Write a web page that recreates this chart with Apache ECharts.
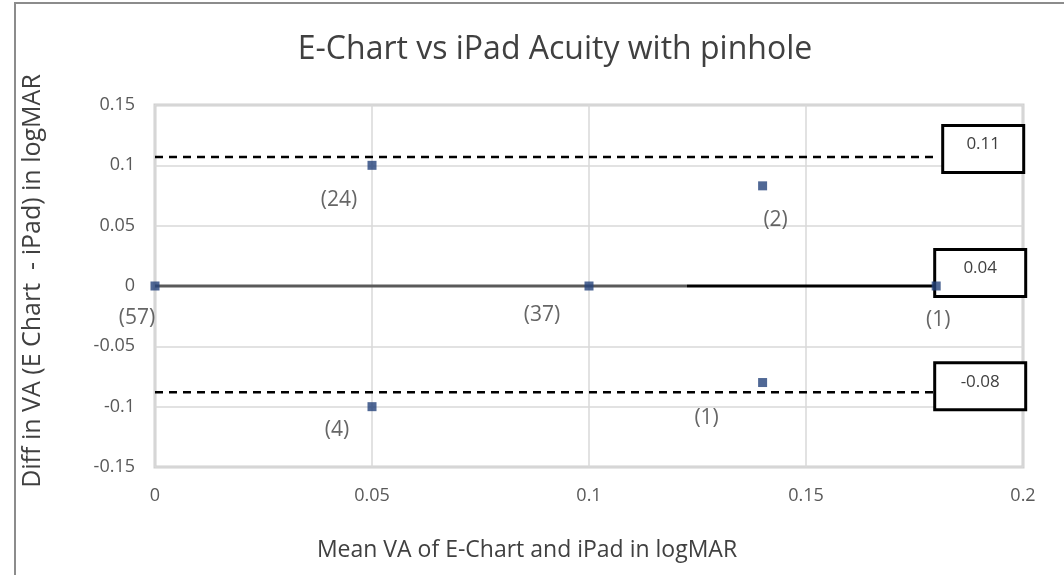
<!DOCTYPE html>
<html>
<head>
<meta charset="utf-8">
<script src="https://cdn.jsdelivr.net/npm/echarts@6/dist/echarts.min.js"></script>
<style>
html,body{margin:0;padding:0;background:#fff;}
#main{width:1064px;height:575px;}
</style>
</head>
<body>
<div id="main"></div>
<script>
// mean VA (x), difference (y) and number of eyes at each point
var meanVA = [0, 0.05, 0.05, 0.1, 0.14, 0.14, 0.18];
var diffVA = [0, 0.1, -0.1, 0, 0.083, -0.08, 0];
var counts = [57, 24, 4, 37, 2, 1, 1];

// limits of agreement and mean line
var upperLoA = 0.107, meanDiff = 0, lowerLoA = -0.088;
var lineEnd = 0.18;
var upperText = '0.11', meanText = '0.04', lowerText = '-0.08';

var xTicks = [0, 0.05, 0.1, 0.15, 0.2];
var yTicks = [-0.15, -0.1, -0.05, 0, 0.05, 0.1, 0.15];

var font = "'Open Sans', sans-serif";
var textGrey = '#595959';

// where each count label sits relative to its point
var labelOffsets = [[-18, 32], [-33, 35], [-35, 23], [-47, 29], [13, 34], [-56, 35], [2, 34]];

var points = meanVA.map(function (x, i) {
	return {
		value: [x, diffVA[i]],
		label: { offset: labelOffsets[i] }
	};
});

var boxLabel = function (text, w, dx, dy) {
	return {
		show: true,
		formatter: text,
		color: '#404040',
		fontFamily: font,
		fontSize: 17,
		backgroundColor: '#fff',
		borderColor: '#000',
		borderWidth: 3,
		width: w,
		height: 30,
		align: 'center',
		verticalAlign: 'top',
		padding: [9, 4, 5, 4],
		distance: 0,
		offset: [dx, dy]
	};
};

var option = {
	animation: false,
	title: {
		text: 'E-Chart vs iPad Acuity with pinhole',
		left: 550,
		textAlign: 'center',
		top: 29,
		textStyle: { fontFamily: font, fontSize: 32, fontWeight: 'normal', color: '#404040' }
	},
	graphic: [{
		type: 'polyline',
		shape: { points: [[15, 575], [15, 3], [1064, 3]] },
		style: { stroke: '#8c8c8c', lineWidth: 2, fill: null }
	}],
	grid: { left: 155, right: 41, top: 105, bottom: 108, show: true, borderColor: '#d0d0d0', borderWidth: 3 },
	xAxis: {
		type: 'value',
		min: xTicks[0],
		max: xTicks[xTicks.length - 1],
		interval: 0.05,
		name: 'Mean VA of E-Chart and iPad in logMAR',
		nameLocation: 'middle',
		nameGap: 72,
		nameTextStyle: { fontFamily: font, fontSize: 23, color: '#404040', padding: [0, 124, 0, 0] },
		axisLine: { show: false },
		axisTick: { show: false },
		axisLabel: { margin: 20, fontFamily: font, fontSize: 18, color: textGrey },
		splitLine: { lineStyle: { color: '#d9d9d9', width: 1.5 } }
	},
	yAxis: {
		type: 'value',
		min: yTicks[0],
		max: yTicks[yTicks.length - 1],
		interval: 0.05,
		name: 'Diff in VA (E Chart  - iPad) in logMAR',
		nameLocation: 'middle',
		nameGap: 110,
		nameTextStyle: { fontFamily: font, fontSize: 25, color: '#404040', padding: [0, 0, 0, 10] },
		axisLine: { show: false },
		axisTick: { show: false },
		axisLabel: { margin: 20, fontFamily: font, fontSize: 18, color: textGrey },
		splitLine: { lineStyle: { color: '#d9d9d9', width: 1.5 } }
	},
	series: [{
		type: 'line',
		data: [[0, upperLoA], [lineEnd, upperLoA]],
		symbol: 'none',
		lineStyle: { color: '#000', width: 2.5, type: [8, 6] },
		endLabel: boxLabel(upperText, 70, 47, -30),
		z: 2
	}, {
		type: 'line',
		data: [[0, lowerLoA], [lineEnd, lowerLoA]],
		symbol: 'none',
		lineStyle: { color: '#000', width: 2.5, type: [8, 6] },
		endLabel: boxLabel(lowerText, 80, 44, -28),
		z: 2
	}, {
		type: 'line',
		data: [[0, meanDiff], [lineEnd, meanDiff]],
		symbol: 'none',
		lineStyle: {
			width: 3,
			color: new echarts.graphic.LinearGradient(0, 0, 1, 0, [
				{ offset: 0, color: '#5a5a5a' },
				{ offset: 0.68, color: '#5a5a5a' },
				{ offset: 0.68, color: '#000' },
				{ offset: 1, color: '#000' }
			])
		},
		endLabel: boxLabel(meanText, 80, 44, -35),
		z: 2
	}, {
		type: 'scatter',
		data: points,
		symbol: 'rect',
		symbolSize: 9,
		itemStyle: { color: '#24427a' },
		label: {
			show: true,
			position: 'inside',
			color: '#404040',
			fontFamily: font,
			fontSize: 21,
			formatter: function (p) { return '(' + counts[p.dataIndex] + ')'; }
		},
		z: 3
	}]
};

var myChart = echarts.init(document.getElementById('main'));
myChart.setOption(option);
</script>
</body>
</html>
